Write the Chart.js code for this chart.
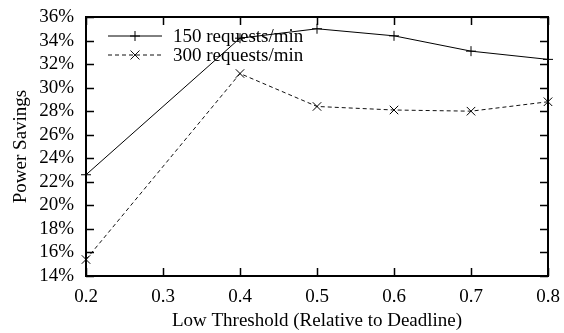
<!DOCTYPE html>
<html>
<head>
<meta charset="utf-8">
<script src="https://cdn.jsdelivr.net/npm/chart.js@4/dist/chart.umd.min.js"></script>
<style>
html,body{margin:0;padding:0;background:#fff;}
#wrap{width:564px;height:333px;position:relative;}
</style>
</head>
<body>
<div id="wrap"><canvas id="c" width="564" height="333"></canvas></div>
<script>
const thresholds = [0.2, 0.4, 0.5, 0.6, 0.7, 0.8];
const series150 = [22.6, 34.2, 35.0, 34.4, 33.1, 32.4];
const series300 = [15.4, 31.2, 28.4, 28.1, 28.0, 28.8];
const seriesLabels = ['150 requests/min', '300 requests/min'];
const xTicks = [0.2, 0.3, 0.4, 0.5, 0.6, 0.7, 0.8];
const yTicks = [14, 16, 18, 20, 22, 24, 26, 28, 30, 32, 34, 36];

const FONT = '"Liberation Serif", "DejaVu Serif", serif';
const FS = 19;

const frame = {
  id: 'frame',
  afterDatasetsDraw(chart) {
    const ctx = chart.ctx, a = chart.chartArea;
    const xs = chart.scales.x, ys = chart.scales.y;
    const L = 8;
    ctx.save();
    ctx.strokeStyle = '#000';
    ctx.lineWidth = 1.5;
    ctx.beginPath();
    xTicks.forEach(v => {
      const p = Math.round(xs.getPixelForValue(v)) + 0.5;
      ctx.moveTo(p, a.bottom); ctx.lineTo(p, a.bottom - L);
      ctx.moveTo(p, a.top); ctx.lineTo(p, a.top + L);
    });
    yTicks.forEach(v => {
      const p = Math.round(ys.getPixelForValue(v)) + 0.5;
      ctx.moveTo(a.left, p); ctx.lineTo(a.left + L, p);
      ctx.moveTo(a.right, p); ctx.lineTo(a.right - L, p);
    });
    ctx.stroke();
    ctx.lineWidth = 2;
    ctx.strokeRect(a.left, a.top, a.right - a.left, a.bottom - a.top);

    // legend (gnuplot style, inside plot, top-left)
    ctx.font = FS + 'px ' + FONT;
    ctx.textBaseline = 'middle';
    ctx.fillStyle = '#000';
    const lx0 = a.left + 22, lx1 = a.left + 76, tx = a.left + 87;
    chart.data.datasets.forEach((ds, i) => {
      const y = a.top + 19 + i * 19;
      ctx.save();
      ctx.strokeStyle = ds.borderColor;
      ctx.lineWidth = ds.borderWidth;
      ctx.setLineDash(ds.borderDash || []);
      ctx.beginPath(); ctx.moveTo(lx0, y); ctx.lineTo(lx1, y); ctx.stroke();
      ctx.restore();
      const r = ds.pointRadius;
      ctx.save();
      ctx.strokeStyle = ds.borderColor; ctx.lineWidth = 1;
      ctx.beginPath();
      const mx = (lx0 + lx1) / 2;
      if (ds.pointStyle === 'cross') {
        ctx.moveTo(mx - r, y); ctx.lineTo(mx + r, y);
        ctx.moveTo(mx, y - r); ctx.lineTo(mx, y + r);
      } else {
        const d = r * 0.75;
        ctx.moveTo(mx - d, y - d); ctx.lineTo(mx + d, y + d);
        ctx.moveTo(mx - d, y + d); ctx.lineTo(mx + d, y - d);
      }
      ctx.stroke();
      ctx.restore();
      ctx.fillText(ds.label, tx, y + 1);
    });
    ctx.restore();
  }
};

new Chart(document.getElementById('c'), {
  type: 'line',
  data: {
    datasets: [
      {
        label: seriesLabels[0],
        data: thresholds.map((x, i) => ({x, y: series150[i]})),
        borderColor: '#000', borderWidth: 1, pointStyle: 'cross',
        pointRadius: 5, pointBorderWidth: 1, pointBorderColor: '#000',
        backgroundColor: '#000', fill: false, tension: 0, clip: false
      },
      {
        label: seriesLabels[1],
        data: thresholds.map((x, i) => ({x, y: series300[i]})),
        borderColor: '#111', borderWidth: 1, borderDash: [4, 3], pointStyle: 'crossRot',
        pointRadius: 6, pointBorderWidth: 1, pointBorderColor: '#000',
        backgroundColor: '#000', fill: false, tension: 0, clip: false
      }
    ]
  },
  options: {
    responsive: false, animation: false,
    layout: {padding: {left: 0, right: 16, top: 17, bottom: 0}},
    plugins: {legend: {display: false}, tooltip: {enabled: false}},
    scales: {
      x: {
        type: 'linear', min: 0.2, max: 0.8,
        afterBuildTicks(s) { s.ticks = xTicks.map(v => ({value: v})); },
        afterFit(s) { s.height = 57; s.paddingLeft = 0; s.paddingRight = 0; },
        grid: {display: false, drawTicks: false},
        border: {display: false},
        ticks: {padding: 10, color: '#000', font: {family: FONT, size: FS},
                maxRotation: 0, autoSkip: false, callback: v => v.toFixed(1)},
        title: {display: true, text: 'Low Threshold (Relative to Deadline)', color: '#000',
                font: {family: FONT, size: FS}, padding: {top: 0, bottom: 1}}
      },
      y: {
        min: 14, max: 36,
        afterBuildTicks(s) { s.ticks = yTicks.map(v => ({value: v})); },
        afterFit(s) { s.width = 86; s.paddingTop = 0; s.paddingBottom = 0; },
        grid: {display: false, drawTicks: false},
        border: {display: false},
        ticks: {padding: 12, color: '#000', font: {family: FONT, size: FS},
                autoSkip: false, callback: v => v + '%'},
        title: {display: true, text: 'Power Savings', color: '#000',
                font: {family: FONT, size: FS}, padding: {top: 10, bottom: 0}}
      }
    }
  },
  plugins: [frame]
});
</script>
</body>
</html>
